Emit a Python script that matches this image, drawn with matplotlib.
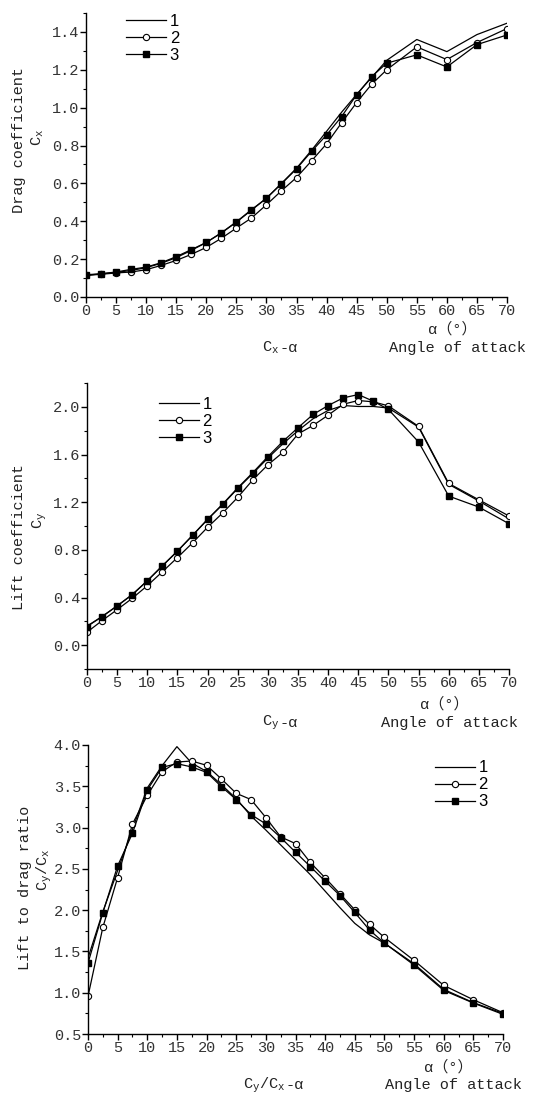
import numpy as np
import matplotlib
matplotlib.use('Agg')
import matplotlib.pyplot as plt
from matplotlib.ticker import MultipleLocator, FormatStrFormatter

plt.rcParams['font.family'] = ['Liberation Mono', 'Noto Sans CJK SC', 'DejaVu Sans']
plt.rcParams['mathtext.fontset'] = 'custom'
plt.rcParams['mathtext.rm'] = 'Liberation Mono'
plt.rcParams['axes.unicode_minus'] = False

# angle of attack (deg)
alpha = [0, 2.5, 5, 7.5, 10, 12.5, 15, 17.5, 20, 22.5, 25, 27.5, 30, 32.5,
         35, 37.5, 40, 42.5, 45, 47.5, 50, 55, 60, 65, 70]

# drag coefficient Cx
cx_1 = [0.118, 0.122, 0.130, 0.140, 0.155, 0.178, 0.208, 0.246, 0.288, 0.338,
        0.395, 0.458, 0.522, 0.600, 0.680, 0.775, 0.875, 0.976, 1.070, 1.160,
        1.250, 1.360, 1.296, 1.386, 1.446]
cx_2 = [0.114, 0.120, 0.127, 0.132, 0.144, 0.167, 0.193, 0.225, 0.262, 0.310,
        0.364, 0.417, 0.487, 0.561, 0.631, 0.719, 0.809, 0.920, 1.027, 1.124,
        1.200, 1.321, 1.254, 1.344, 1.418]
cx_3 = [0.114, 0.123, 0.132, 0.146, 0.158, 0.181, 0.213, 0.250, 0.288, 0.339,
        0.397, 0.461, 0.521, 0.598, 0.677, 0.769, 0.856, 0.953, 1.068, 1.164,
        1.235, 1.279, 1.215, 1.333, 1.384]

# lift coefficient Cy
cy_1 = [0.160, 0.240, 0.330, 0.425, 0.540, 0.665, 0.790, 0.920, 1.055, 1.180,
        1.315, 1.440, 1.570, 1.690, 1.800, 1.900, 1.970, 2.011, 2.003, 2.003,
        1.990, 1.830, 1.350, 1.210, 1.060]
cy_2 = [0.109, 0.206, 0.298, 0.393, 0.499, 0.616, 0.735, 0.858, 0.989, 1.109,
        1.240, 1.387, 1.513, 1.618, 1.772, 1.844, 1.930, 2.022, 2.053, 2.042,
        2.008, 1.836, 1.357, 1.220, 1.084]
cy_3 = [0.156, 0.240, 0.329, 0.423, 0.540, 0.666, 0.788, 0.922, 1.056, 1.184,
        1.320, 1.448, 1.582, 1.710, 1.825, 1.936, 2.011, 2.075, 2.103, 2.047,
        1.978, 1.705, 1.251, 1.159, 1.019]

# lift to drag ratio Cy/Cx
k_1 = [1.42, 1.98, 2.48, 2.98, 3.48, 3.75, 3.98, 3.78, 3.68, 3.52, 3.35, 3.14,
       2.97, 2.79, 2.61, 2.43, 2.23, 2.03, 1.84, 1.70, 1.60, 1.35, 1.04, 0.88, 0.75]
k_2 = [0.956, 1.79, 2.395, 3.044, 3.39, 3.677, 3.794, 3.806, 3.754, 3.589,
       3.415, 3.339, 3.121, 2.887, 2.806, 2.577, 2.391, 2.198, 2.004, 1.827,
       1.669, 1.391, 1.089, 0.915, 0.758]
k_3 = [1.359, 1.968, 2.536, 2.931, 3.456, 3.73, 3.774, 3.734, 3.669, 3.496,
       3.339, 3.157, 3.044, 2.879, 2.702, 2.528, 2.351, 2.177, 1.972, 1.758,
       1.601, 1.335, 1.028, 0.875, 0.738]

labels = ['1', '2', '3']

W, H = 539, 1095
fig = plt.figure(figsize=(W / 100, H / 100), dpi=100)
TXT = '#222222'


def ax_at(l, t, r, b):
    return fig.add_axes([l / W, 1 - b / H, (r - l) / W, (b - t) / H])


def ftext(x, y, s, ha='center', **kw):
    fig.text(x / W, 1 - y / H, s, color=TXT, ha=ha, va='center', **kw)


def style(ax, ylim, ymaj, ymin):
    ax.set_xlim(0, 70)
    ax.set_ylim(*ylim)
    ax.xaxis.set_major_locator(MultipleLocator(5))
    ax.xaxis.set_minor_locator(MultipleLocator(2.5))
    ax.yaxis.set_major_locator(MultipleLocator(ymaj))
    ax.yaxis.set_minor_locator(MultipleLocator(ymin))
    ax.yaxis.set_major_formatter(FormatStrFormatter('%.1f'))
    for s in ['top', 'right']:
        ax.spines[s].set_visible(False)
    for s in ['left', 'bottom']:
        ax.spines[s].set_linewidth(1.0)
    ax.tick_params(which='major', direction='out', length=4, width=1,
                   labelsize=11, labelcolor='#333333', pad=1)
    ax.tick_params(which='minor', direction='out', length=2.5, width=0.8)


def draw(ax, y1, y2, y3, leg_anchor):
    ax.plot(alpha, y1, color='black', lw=0.9, label=labels[0])
    ax.plot(alpha, y2, color='black', lw=0.9, marker='o', ms=4.5,
            mfc='white', mec='black', mew=0.8, label=labels[1])
    ax.plot(alpha, y3, color='black', lw=0.9, marker='s', ms=4.2,
            mfc='black', mec='black', label=labels[2])
    ax.legend(loc='upper left', bbox_to_anchor=leg_anchor, frameon=False,
              handlelength=2.4, handletextpad=0.2, labelspacing=0.12,
              borderaxespad=0, prop={'family': 'Liberation Sans', 'size': 12})


def caption(x_c, y, sym, x_a, y_a, y_b):
    # "C - alpha" caption, "alpha (deg)" unit line and "Angle of attack"
    ftext(x_c, y, sym, ha='right', fontsize=11)
    ftext(x_c, y, '-α', ha='left', fontsize=11)
    ftext(x_a, y_a, 'α（°）', fontsize=11)
    ftext(x_a + 5, y_b, 'Angle of attack', fontsize=11)


# --- drag coefficient ---
ax1 = ax_at(86, 13, 507, 297)
draw(ax1, cx_1, cx_2, cx_3, (0.08, 1.02))
style(ax1, (0, 1.5), 0.2, 0.1)
ftext(19, 140, 'Drag coefficient', rotation=90, fontsize=11)
ftext(38, 137, r'$\mathrm{C}_\mathrm{x}$', rotation=90, fontsize=11)
caption(279, 348, r'$\mathrm{C}_\mathrm{x}$', 452, 329, 348)

# --- lift coefficient ---
ax2 = ax_at(87, 383, 509, 669)
draw(ax2, cy_1, cy_2, cy_3, (0.155, 0.975))
style(ax2, (-0.2, 2.2), 0.4, 0.2)
ftext(19, 537, 'Lift coefficient', rotation=90, fontsize=11)
ftext(40, 520, r'$\mathrm{C}_\mathrm{y}$', rotation=90, fontsize=11)
caption(279, 723, r'$\mathrm{C}_\mathrm{y}$', 444, 704, 723)

# --- lift to drag ratio ---
ax3 = ax_at(88, 745, 503, 1034)
draw(ax3, k_1, k_2, k_3, (0.82, 0.97))
style(ax3, (0.5, 4.0), 0.5, 0.25)
ftext(25, 888, 'Lift to drag ratio', rotation=90, fontsize=11)
ftext(44, 870, r'$\mathrm{C}_\mathrm{y}/\mathrm{C}_\mathrm{x}$', rotation=90, fontsize=11)
caption(286, 1085, r'$\mathrm{C}_\mathrm{y}/\mathrm{C}_\mathrm{x}$', 448, 1067, 1085)

fig.savefig('out.png', dpi=100, facecolor='white')
